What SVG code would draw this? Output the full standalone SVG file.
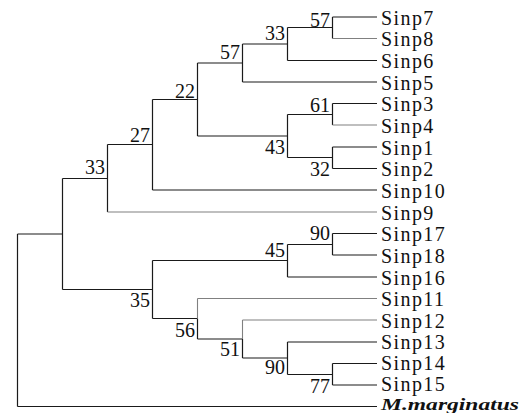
<svg xmlns="http://www.w3.org/2000/svg" width="521" height="413" viewBox="0 0 521 413">
<style>
.e{fill:none;stroke:#1a1a1a;stroke-width:1.2}
.g{fill:none;stroke:#808080;stroke-width:1.1}
.bs{font-family:"Liberation Serif","Times New Roman",serif;font-size:20px;fill:#111;text-anchor:end}
.lf{font-family:"Liberation Serif","Times New Roman",serif;font-size:20px;fill:#111;letter-spacing:1.4px}
.sp{font-size:17px;font-weight:bold;font-style:italic;letter-spacing:0}
</style>
<rect width="521" height="413" fill="#fff"/>
<g id="connectors">
<path class="e" d="M332.5,17 H377 M332.5,17 V38.5 M287.5,27.5 H332.5 M287.5,27.5 V60.5 M287.5,60.5 H377 M242.5,44 H287.5 M242.5,44 V82 M242.5,82 H377 M197.5,63 H242.5 M197.5,63 V136 M332.5,103.5 H377 M332.5,103.5 V125 M287.5,114.5 H332.5 M287.5,114.5 V157.5 M332.5,147 H377 M332.5,147 V168.5 M332.5,168.5 H377 M287.5,157.5 H332.5 M197.5,136 H287.5 M152.5,99.5 H197.5 M152.5,99.5 V190 M152.5,190 H377 M107.5,144.5 H152.5 M107.5,144.5 V212 M62.5,178.5 H107.5 M62.5,178.5 V289.5 M17.5,234 H62.5 M17.5,234 V406.5 M17.5,406.5 H377 M332.5,233.5 H377 M332.5,233.5 V255 M332.5,255 H377 M287.5,244.5 H332.5 M287.5,244.5 V277 M287.5,277 H377 M152.5,260.5 H287.5 M152.5,260.5 V318.5 M62.5,289.5 H152.5 M152.5,318.5 H197.5 M197.5,318.5 V339 M197.5,339 H242.5 M242.5,339 V358 M242.5,358 H287.5 M287.5,342 H377 M287.5,342 V374.5 M287.5,374.5 H332.5 M332.5,363.5 H377 M332.5,363.5 V385 M332.5,385 H377"/>
<path class="g" d="M332.5,38.5 H377 M332.5,125 H377 M107.5,212 H377 M197.5,298.5 H377 M197.5,298.5 V318.5 M242.5,320 H377 M242.5,320 V339"/>
</g>
<g id="n57a"><text class="bs" x="330" y="26.5">57</text></g>
<g id="n33a"><text class="bs" x="285" y="39.5">33</text></g>
<g id="n57b"><text class="bs" x="240" y="59">57</text></g>
<g id="n22"><text class="bs" x="195" y="97.5">22</text></g>
<g id="n27"><text class="bs" x="150" y="141.5">27</text></g>
<g id="n33b"><text class="bs" x="105" y="173.5">33</text></g>
<g id="n61"><text class="bs" x="330" y="111.5">61</text></g>
<g id="n43"><text class="bs" x="285" y="154">43</text></g>
<g id="n32"><text class="bs" x="330" y="176">32</text></g>
<g id="n90a"><text class="bs" x="330" y="239.5">90</text></g>
<g id="n45"><text class="bs" x="285" y="256.5">45</text></g>
<g id="n35"><text class="bs" x="150" y="307">35</text></g>
<g id="n56"><text class="bs" x="195" y="337">56</text></g>
<g id="n51"><text class="bs" x="240" y="356">51</text></g>
<g id="n90b"><text class="bs" x="285" y="374">90</text></g>
<g id="n77"><text class="bs" x="330" y="393">77</text></g>
<g id="Sinp7"><text class="lf" x="381" y="24.5">Sinp7</text></g>
<g id="Sinp8"><text class="lf" x="381" y="46">Sinp8</text></g>
<g id="Sinp6"><text class="lf" x="381" y="68">Sinp6</text></g>
<g id="Sinp5"><text class="lf" x="381" y="89.5">Sinp5</text></g>
<g id="Sinp3"><text class="lf" x="381" y="111">Sinp3</text></g>
<g id="Sinp4"><text class="lf" x="381" y="132.5">Sinp4</text></g>
<g id="Sinp1"><text class="lf" x="381" y="154.5">Sinp1</text></g>
<g id="Sinp2"><text class="lf" x="381" y="176">Sinp2</text></g>
<g id="Sinp10"><text class="lf" x="381" y="197.5">Sinp10</text></g>
<g id="Sinp9"><text class="lf" x="381" y="219.5">Sinp9</text></g>
<g id="Sinp17"><text class="lf" x="381" y="241">Sinp17</text></g>
<g id="Sinp18"><text class="lf" x="381" y="262.5">Sinp18</text></g>
<g id="Sinp16"><text class="lf" x="381" y="284.5">Sinp16</text></g>
<g id="Sinp11"><text class="lf" x="381" y="306">Sinp11</text></g>
<g id="Sinp12"><text class="lf" x="381" y="327.5">Sinp12</text></g>
<g id="Sinp13"><text class="lf" x="381" y="349">Sinp13</text></g>
<g id="Sinp14"><text class="lf" x="381" y="370">Sinp14</text></g>
<g id="Sinp15"><text class="lf" x="381" y="390.5">Sinp15</text></g>
<g id="Mmarginatus"><text class="lf sp" x="381" y="410" textLength="138" lengthAdjust="spacingAndGlyphs">M.marginatus</text></g>
</svg>
